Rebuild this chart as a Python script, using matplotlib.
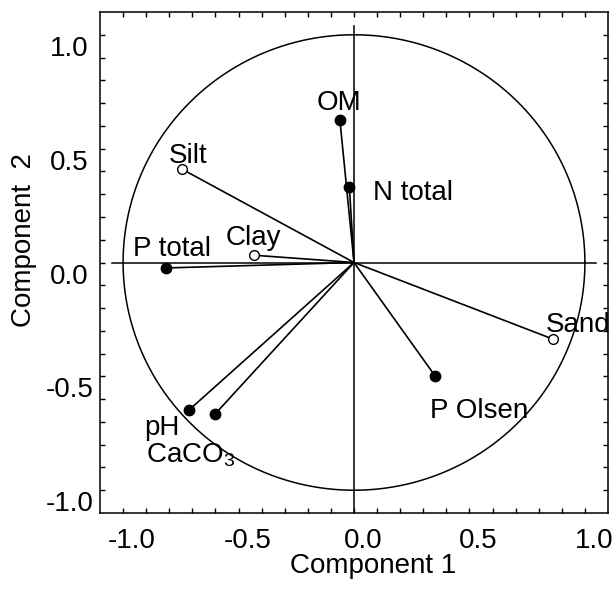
import numpy as np
import matplotlib
matplotlib.use("Agg")
import matplotlib.pyplot as plt
from matplotlib.transforms import ScaledTranslation

plt.rcParams['font.family'] = ['Liberation Sans', 'DejaVu Sans']
plt.rcParams['mathtext.fontset'] = 'custom'
plt.rcParams['mathtext.rm'] = 'Liberation Sans'
plt.rcParams['mathtext.default'] = 'regular'
plt.rcParams['axes.unicode_minus'] = False

# PCA loadings (component 1, component 2)
variables = ['OM', 'N total', 'Silt', 'Clay', 'P total', 'Sand', 'P Olsen', 'pH', 'CaCO$_3$']
comp1 = [-0.061, -0.020, -0.745, -0.434, -0.816, 0.863, 0.351, -0.716, -0.603]
comp2 = [0.625, 0.330, 0.410, 0.032, -0.024, -0.337, -0.498, -0.649, -0.667]
open_marker = [False, False, True, True, False, True, False, False, False]

# label anchor (left/baseline) for each variable
label_x = [-0.160, 0.082, -0.803, -0.555, -0.959, 0.829, 0.330, -0.907, -0.902]
label_y = [0.669, 0.274, 0.436, 0.076, 0.028, -0.306, -0.684, -0.759, -0.878]

ticks = [-1.0, -0.5, 0.0, 0.5, 1.0]
tick_labels = ['-1.0', '-0.5', '0.0', '0.5', '1.0']

fig = plt.figure(figsize=(6.16, 5.89), dpi=100)
ax = fig.add_axes([100 / 616, 76 / 589, 508 / 616, 501 / 589])

# unit circle and axes through the origin
t = np.linspace(0, 2 * np.pi, 400)
ax.plot(np.cos(t), np.sin(t), color='black', lw=1.1)
ax.plot([-1.05, 1.05], [0, 0], color='black', lw=1.1)
ax.plot([0, 0], [-1.1, 1.04], color='black', lw=1.1)

for x, y, hollow in zip(comp1, comp2, open_marker):
    ax.plot([0, x], [0, y], color='black', lw=1.2, zorder=3)
    ax.plot(x, y, 'o', ms=7.5 if not hollow else 7,
            mfc='white' if hollow else 'black', mec='black', mew=1.0, zorder=4)

for name, lx, ly in zip(variables, label_x, label_y):
    ax.text(lx, ly, name, fontsize=20, ha='left', va='baseline', zorder=5)

ax.set_xlim(-1.1, 1.1)
ax.set_ylim(-1.1, 1.1)
ax.set_xticks(ticks)
ax.set_yticks(ticks)
ax.set_xticklabels(tick_labels)
ax.set_yticklabels(tick_labels)
ax.set_xticks(np.arange(-1.0, 1.05, 0.1), minor=True)
ax.set_yticks(np.arange(-1.0, 1.05, 0.1), minor=True)
ax.tick_params(which='both', direction='in', top=True, right=True,
               length=3.5, width=1.0)
ax.tick_params(axis='x', labelsize=20, pad=11)
ax.tick_params(axis='y', labelsize=20, pad=22)
for sp in ax.spines.values():
    sp.set_linewidth(1.1)

for lbl in ax.get_xticklabels():
    lbl.set_transform(lbl.get_transform() + ScaledTranslation(0.09, 0, fig.dpi_scale_trans))
for lbl in ax.get_yticklabels():
    lbl.set_horizontalalignment('center')
    lbl.set_transform(lbl.get_transform() + ScaledTranslation(0, -0.11, fig.dpi_scale_trans))

fig.text(373 / 616, 16 / 589, 'Component 1', fontsize=20, ha='center', va='baseline')
fig.text(24 / 616, (589 - 240) / 589, 'Component  2', fontsize=20, rotation=90,
         ha='center', va='center')

fig.savefig('out.png', dpi=100)
